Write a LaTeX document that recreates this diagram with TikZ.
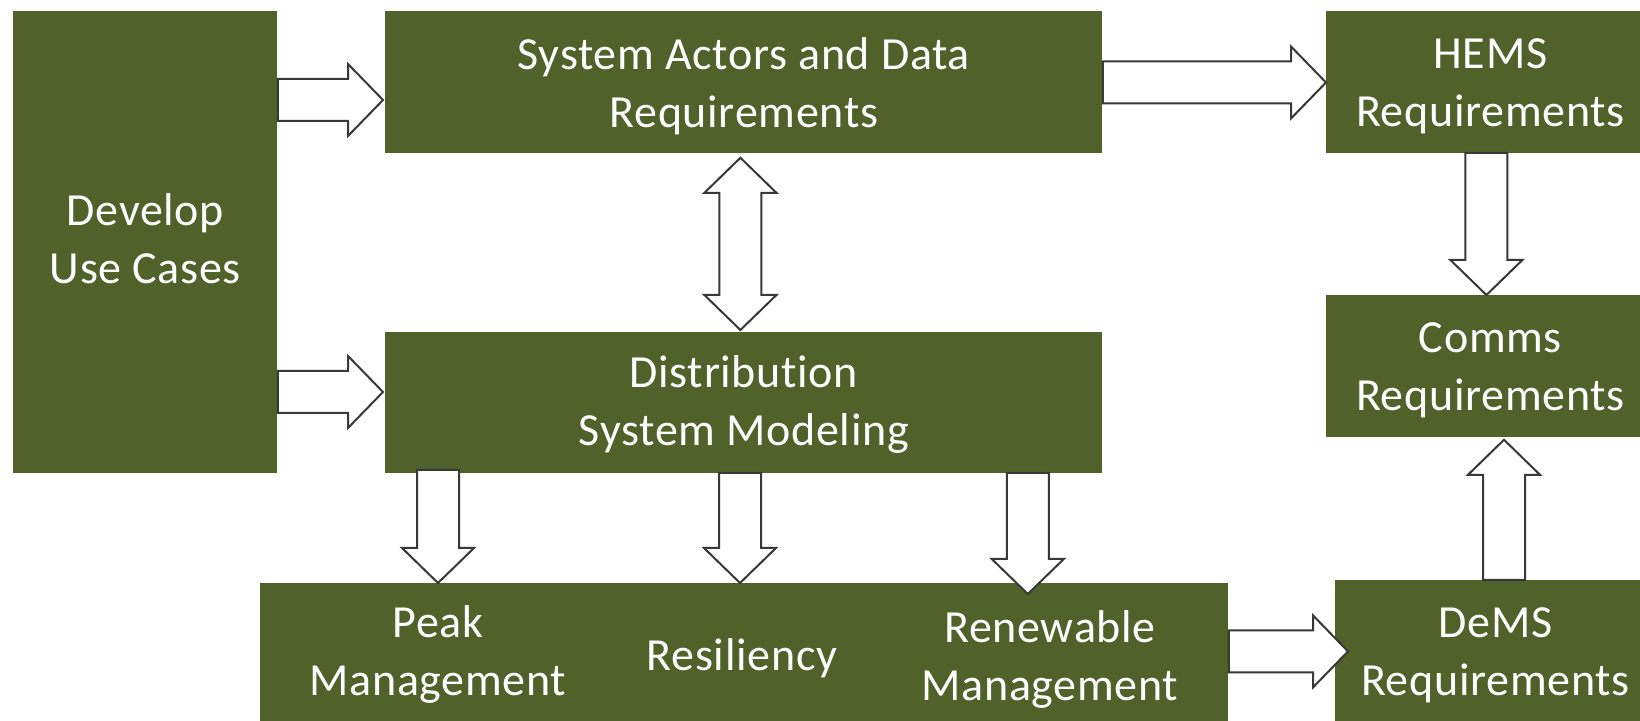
\documentclass[tikz,border=0pt]{standalone}
\usepackage{fontspec}
\setmainfont{Carlito}[LetterSpace=1.5,Ligatures=NoCommon]
\usetikzlibrary{calc}
\definecolor{olivebox}{HTML}{506129}
\tikzset{
  box/.style={fill=olivebox, draw=none, text=white, align=center, inner sep=0pt,
    anchor=north west, text depth=0pt, font=\fontsize{23}{29}\selectfont},
  lbl/.style={text=white, align=center, inner sep=0pt, font=\fontsize{23}{29}\selectfont},
  blockarr/.style={draw=black!78, fill=white, line width=1pt, line join=miter}
}
\newcommand\arrR[2]{\draw[blockarr] let \p1=#1, \p2=#2 in
  (\x1,\y1+10.5pt) -- (\x2-17.5pt,\y1+10.5pt) -- (\x2-17.5pt,\y1+18pt) -- (\x2,\y1)
  -- (\x2-17.5pt,\y1-18pt) -- (\x2-17.5pt,\y1-10.5pt) -- (\x1,\y1-10.5pt) -- cycle;}
\newcommand\arrD[2]{\draw[blockarr] let \p1=#1, \p2=#2 in
  (\x1-10.5pt,\y1) -- (\x1-10.5pt,\y2+17.5pt) -- (\x1-18pt,\y2+17.5pt) -- (\x1,\y2)
  -- (\x1+18pt,\y2+17.5pt) -- (\x1+10.5pt,\y2+17.5pt) -- (\x1+10.5pt,\y1) -- cycle;}
\newcommand\arrU[2]{\draw[blockarr] let \p1=#1, \p2=#2 in
  (\x1-10.5pt,\y1) -- (\x1-10.5pt,\y2-17.5pt) -- (\x1-18pt,\y2-17.5pt) -- (\x1,\y2)
  -- (\x1+18pt,\y2-17.5pt) -- (\x1+10.5pt,\y2-17.5pt) -- (\x1+10.5pt,\y1) -- cycle;}
\newcommand\arrUD[2]{\draw[blockarr] let \p1=#1, \p2=#2 in
  (\x1,\y1) -- (\x1+18pt,\y1-17.5pt) -- (\x1+10.5pt,\y1-17.5pt) -- (\x1+10.5pt,\y2+17.5pt)
  -- (\x1+18pt,\y2+17.5pt) -- (\x1,\y2) -- (\x1-18pt,\y2+17.5pt) -- (\x1-10.5pt,\y2+17.5pt)
  -- (\x1-10.5pt,\y1-17.5pt) -- (\x1-18pt,\y1-17.5pt) -- cycle;}
\begin{document}
\begin{tikzpicture}[x=0.5pt,y=-0.5pt]
\useasboundingbox (0,0) rectangle (1640,721);
\clip (0,0) rectangle (1640,721);
\fill[white] (0,0) rectangle (1640,721);
% boxes
\node[box, minimum width=132pt, minimum height=231pt] (dev) at (13,11) {};
\node[lbl] (devtxt) at ($(dev.center)+(0,-4)$) {Develop\\Use Cases};
\node[box, minimum width=358.5pt, minimum height=71pt] (sys) at (385,11) {System Actors and Data\\Requirements};
\node[box, minimum width=164pt, minimum height=71pt] (hems) at (1326,11) {HEMS\\Requirements};
\node[box, minimum width=358.5pt, minimum height=70.5pt] (dist) at (385,332) {};
\node[lbl] (disttxt) at ($(dist.center)+(0,2)$) {Distribution\\System Modeling};
\node[box, minimum width=164pt, minimum height=71pt] (comms) at (1326,295) {Comms\\Requirements};
\node[box, minimum width=484pt, minimum height=71pt] (bot) at (260,583) {};
\node[box, minimum width=160pt, minimum height=71pt] (dems) at (1335,580) {DeMS\\Requirements};
\node[lbl] (peak) at (438,654) {Peak\\Management};
\node[lbl] (resil) at (742,658) {Resiliency};
\node[lbl] (renew) at (1050,659) {Renewable\\Management};
% arrows
\arrR{(dev.east |- 0,100)}{($(sys.west |- 0,100)+(-2,0)$)}
\arrR{(dev.east |- 0,392)}{($(dist.west |- 0,392)+(-2,0)$)}
\arrR{(sys.east |- 0,82.5)}{(hems.west |- 0,82.5)}
\arrUD{($(sys.south)+(-3.5,4)$)}{($(dist.north)+(-3.5,-2)$)}
\arrD{($(hems.south)+(-4,-1)$)}{($(comms.north)+(-4,0)$)}
\arrD{($(peak |- dist.south)+(0,-4)$)}{(peak |- bot.north)}
\arrD{($(resil |- dist.south)+(-2,-1)$)}{($(resil |- bot.north)+(-2,0)$)}
\arrD{($(dist.south east)+(-75,-1)$)}{($(bot.north west)+(767,11)$)}
\arrR{(bot.east |- dems.west)}{($(dems.west)+(13,0)$)}
\arrU{($(dems.north west)+(169,0)$)}{($(comms.south west)+(178,2)$)}
\end{tikzpicture}
\end{document}
